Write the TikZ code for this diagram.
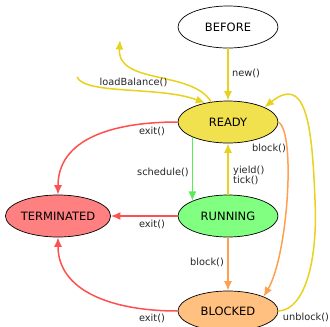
\documentclass[tikz,border=0pt]{standalone}
\usepackage{fontspec}
\setmainfont{DejaVu Sans}
\usetikzlibrary{shapes.geometric,arrows.meta}
\definecolor{ylw}{HTML}{E8D21E}
\definecolor{ylwfill}{HTML}{F2E14F}
\definecolor{grn}{HTML}{55EE55}
\definecolor{grnfill}{HTML}{80FF80}
\definecolor{rd}{HTML}{FF5050}
\definecolor{rdfill}{HTML}{FF8080}
\definecolor{org}{HTML}{FFA050}
\definecolor{orgfill}{HTML}{FFC080}
\tikzset{
  state/.style={ellipse, draw=black, line width=0.7pt, minimum width=100pt, minimum height=42pt, inner sep=0pt, font=\fontsize{11.5}{13}\selectfont},
  edge/.style={line width=1.5pt, -{Latex[length=9.5pt,width=8pt]}},
  lbl/.style={font=\fontsize{9.8}{11}\selectfont, text=black!85, inner sep=0pt}
}
\begin{document}
\begin{tikzpicture}[x=1pt,y=-1pt]
\clip (0,0) rectangle (330,327);
\fill[white] (0,0) rectangle (330,327);
\node[state, fill=white] (before) at (228,27) {BEFORE};
\node[state, fill=ylwfill] (ready) at (228,122) {READY};
\node[state, fill=grnfill] (running) at (228,216) {RUNNING};
\node[state, fill=rdfill] (term) at (58,216) {TERMINATED};
\node[state, fill=orgfill, minimum height=40pt] (blocked) at (228,311) {BLOCKED};
\coordinate (lbin) at (77,77);
\coordinate (lbout) at (120,40);
% edges
\draw[edge, ylw] (before.south) -- (ready.north);
\draw[edge, ylw] (lbin) .. controls (85,95) and (160,86) .. (ready.140);
\draw[edge, ylw] (ready.130) .. controls (192,70) and (117,85) .. (lbout);
\draw[edge, ylw] (blocked.east) .. controls (305,310) and (318,260) .. (315,200) .. controls (312,120) and (305,75) .. (ready.22);
\draw[edge, org] (ready.east) .. controls (296,132) and (288,255) .. (blocked.22);
\draw[edge, grn] (ready.south west) -- (running.north west);
\draw[edge, ylw] (running.north) -- (ready.south);
\draw[edge, rd] (running.west) -- (term.east);
\draw[edge, org] (running.south) -- (blocked.north);
\draw[edge, rd] (ready.west) .. controls (110,122) and (58,140) .. (term.north);
\draw[edge, rd] (blocked.west) .. controls (110,311) and (58,290) .. (term.south);
% labels
\node[lbl] (lnew) at (246,73) {new()};
\node[lbl] (llb) at (133.5,82) {loadBalance()};
\node[lbl] (lexit1) at (152,131) {exit()};
\node[lbl] (lblock1) at (269,148) {block()};
\node[lbl] (lsched) at (163,172) {schedule()};
\node[lbl, anchor=west, align=left] (lyield) at (233,175.5) {yield()\\[-1pt]tick()};
\node[lbl] (lexit2) at (152,224) {exit()};
\node[lbl] (lblock2) at (207,262) {block()};
\node[lbl] (lexit3) at (152,318) {exit()};
\node[lbl] (lunblock) at (306,317) {unblock()};
\end{tikzpicture}
\end{document}
